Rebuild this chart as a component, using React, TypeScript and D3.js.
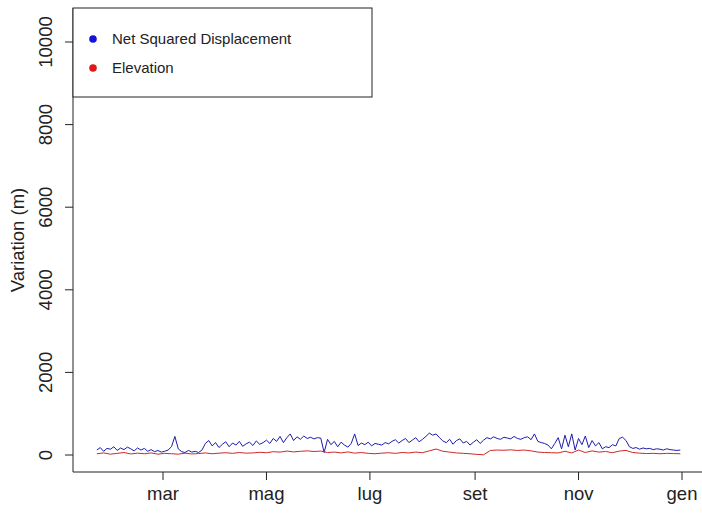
import * as d3 from "d3";

// x axis months (Italian labels)
const monthTicks = ["2013-03-01", "2013-05-01", "2013-07-01", "2013-09-01", "2013-11-01", "2014-01-01"];
const monthLabels = ["mar", "mag", "lug", "set", "nov", "gen"];
const yTicks = [0, 2000, 4000, 6000, 8000, 10000];

// Net Squared Displacement, one reading every 2 days from 21 Jan
const nsdStart = "2013-01-21";
const nsdStepDays = 2;
const nsdValues = [
  120, 180, 90, 160, 140, 200, 110, 170, 130, 190, 150, 100, 170, 120, 160, 90, 130, 80, 110, 70,
  90, 120, 200, 450,
  150, 80, 60, 110, 70, 90, 60, 120,
  280, 350, 220, 300, 180, 260, 320, 200, 290, 240, 330, 210, 270, 310, 230, 340, 260, 300,
  360, 280, 400, 330, 450, 300, 420, 510, 350, 440, 380, 460, 400, 430, 390, 420, 410,
  60, 380,
  250, 330, 200, 310, 240, 190, 280,
  510,
  230, 290, 250, 310, 220, 280, 260, 240, 300, 270,
  330, 370, 290, 350, 400, 300, 360, 420, 320, 380,
  450, 530, 480, 510, 420,
  340, 300, 380, 260, 350, 390, 290, 330, 240, 310, 370, 280, 360,
  420, 390, 440, 400, 380, 430, 410, 390, 450, 400, 380, 420, 440, 370,
  510,
  330, 300, 280, 240, 150,
  280, 420, 150, 480, 200, 510, 120, 400, 250, 460, 180, 350, 220, 300, 150,
  200, 180, 250, 220,
  400, 430, 350,
  200, 160, 180, 140, 170, 150, 160, 130, 150, 140, 120, 150, 130, 120, 110, 120,
];

// Elevation, one reading every 4 days from 21 Jan
const elevStart = "2013-01-21";
const elevStepDays = 4;
const elevValues = [
  30, 50, 20, 40, 60, 25, 45, 30, 50, 20,
  40, 30, 20, 45, 25, 35, 50, 30, 45, 55, 40, 60, 45, 50, 65, 55,
  80, 70, 95, 75, 90, 100, 85, 95,
  60, 70, 50, 75, 45, 60, 40,
  30, 45, 55, 40, 60, 50, 70, 55,
  100, 145, 90, 70,
  50, 40, 30, 15, 5,
  110, 120, 115, 125, 110, 120, 100,
  70, 60, 55, 50,
  90, 50, 120, 60, 100, 70, 85, 55,
  95, 110, 60,
  45, 35, 40, 30, 40, 35, 30,
];

const legendItems = [
  { label: "Net Squared Displacement", color: "#1414d8" },
  { label: "Elevation", color: "#e01818" },
];

const W = 702;
const H = 513;
const FONT = "'Liberation Sans', Arial, sans-serif";

export default function App() {
  const parse = d3.timeParse("%Y-%m-%d");
  const tickDates = monthTicks.map((d) => parse(d) as Date);

  const x = d3.scaleTime().domain([tickDates[0], tickDates[tickDates.length - 1]]).range([163, 682]);
  const y = d3.scaleLinear().domain([0, 10000]).range([455, 42]);

  const plot = { left: 73, right: 702, top: 8, bottom: 472 };

  const nsd = nsdValues.map((v, i) => ({ date: d3.timeDay.offset(parse(nsdStart) as Date, i * nsdStepDays), v }));
  const elev = elevValues.map((v, i) => ({ date: d3.timeDay.offset(parse(elevStart) as Date, i * elevStepDays), v }));

  const line = d3
    .line<{ date: Date; v: number }>()
    .x((d) => x(d.date))
    .y((d) => y(d.v));

  return (
    <svg
      width={W}
      height={H}
      viewBox={`0 0 ${W} ${H}`}
      style={{ position: "fixed", left: 0, top: 0, background: "#fff" }}
      fontFamily={FONT}
    >
      <rect width={W} height={H} fill="#fff" />

      {/* L-shaped frame */}
      <line x1={plot.left} x2={plot.left} y1={plot.top} y2={plot.bottom} stroke="#222" strokeWidth={1} />
      <line x1={plot.left} x2={plot.right} y1={plot.bottom} y2={plot.bottom} stroke="#222" strokeWidth={1} />

      {/* y axis */}
      {yTicks.map((t) => (
        <g key={t}>
          <line x1={plot.left - 8} x2={plot.left} y1={y(t)} y2={y(t)} stroke="#222" />
          <text
            transform={`translate(${52},${y(t)}) rotate(-90)`}
            textAnchor="middle"
            fontSize={18.5}
            fill="#222"
          >
            {t}
          </text>
        </g>
      ))}
      <text
        transform={`translate(${24},${(plot.top + plot.bottom) / 2}) rotate(-90)`}
        textAnchor="middle"
        fontSize={18.5}
        fill="#222"
      >
        Variation (m)
      </text>

      {/* x axis */}
      {tickDates.map((d, i) => (
        <g key={i}>
          <line x1={x(d)} x2={x(d)} y1={plot.bottom} y2={plot.bottom + 8} stroke="#222" />
          <text x={x(d)} y={plot.bottom + 28} textAnchor="middle" fontSize={18.5} fill="#222">
            {monthLabels[i]}
          </text>
        </g>
      ))}

      {/* series */}
      <path d={line(nsd) ?? ""} fill="none" stroke="#1c1cb0" strokeWidth={1} />
      <path d={line(elev) ?? ""} fill="none" stroke="#d02828" strokeWidth={1} />

      {/* legend */}
      <rect x={plot.left} y={plot.top} width={299} height={89} fill="#fff" stroke="#222" strokeWidth={1} />
      {legendItems.map((it, i) => (
        <g key={it.label} transform={`translate(${plot.left}, ${39 + i * 29})`}>
          <circle cx={20} cy={0} r={3.8} fill={it.color} />
          <text x={39} y={5} fontSize={15} fill="#222">
            {it.label}
          </text>
        </g>
      ))}
    </svg>
  );
}
